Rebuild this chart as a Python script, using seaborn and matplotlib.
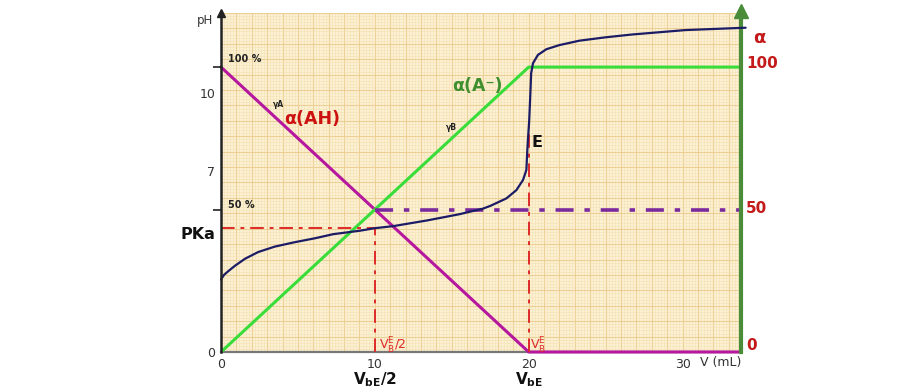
import numpy as np
import pandas as pd
import matplotlib
matplotlib.use("Agg")
import matplotlib.pyplot as plt
import seaborn as sns
from matplotlib.ticker import MultipleLocator

# titration curve: volume of base (mL) and pH
vol = [0, 0.2, 0.47, 0.91, 1.56, 2.42, 3.5, 4.8, 6.1, 7.3, 9.0, 10.0, 11.2,
       13.4, 15.5, 16.2, 17.0, 17.5, 18.55, 19.2, 19.63, 19.85, 19.9, 19.95,
       20.03, 20.1, 20.16, 20.28, 20.6, 21.15, 22.0, 23.3, 25.0, 26.75, 30.2,
       34.1]
ph = [2.8, 2.98, 3.12, 3.33, 3.6, 3.86, 4.07, 4.24, 4.39, 4.55, 4.68, 4.78,
      4.86, 5.08, 5.32, 5.42, 5.53, 5.64, 5.93, 6.25, 6.64, 7.03, 7.67, 8.19,
      8.9, 9.86, 10.76, 11.15, 11.47, 11.69, 11.85, 12.02, 12.15, 12.26, 12.43,
      12.52]

# fractions alpha (%) of AH and A- against volume
alpha_vol = [0, 20, 33.8]
alpha_ah = [100, 0, 0]
alpha_a = [0, 100, 100]

v_eq = 20        # V_bE
v_half = 10      # V_bE / 2
pka = 4.8
ph_e = 8.8
ph_100 = 11.0    # pH height where alpha = 100 %
x_max = 33.8
ph_max = 13.1

ph_ticks = [0, 7, 10]
vol_ticks = [0, 10, 20, 30]
alpha_ticks = [0, 50, 100]

curve = pd.DataFrame({"V": vol, "pH": ph})
fractions = pd.DataFrame({"V": alpha_vol, "AH": alpha_ah, "A": alpha_a})

sns.set_style("white")
plt.rcParams["font.family"] = ["DejaVu Sans"]

fig = plt.figure(figsize=(9.22, 3.91), dpi=100)
rect = [221 / 922, 39 / 391, 520 / 922, 339.3 / 391]

# graph paper background
bg = fig.add_axes(rect)
bg.set_facecolor("#fdf1d3")
bg.set_xlim(0, x_max)
bg.set_ylim(0, ph_max)
bg.xaxis.set_major_locator(MultipleLocator(1))
bg.xaxis.set_minor_locator(MultipleLocator(0.2))
bg.yaxis.set_major_locator(MultipleLocator(0.595))
bg.yaxis.set_minor_locator(MultipleLocator(0.119))
bg.grid(which="major", color="#ebcf95", lw=0.8)
bg.grid(which="minor", color="#f4e0b4", lw=0.4)
bg.tick_params(which="both", length=0, labelleft=False, labelbottom=False)
for s in ["top", "left", "right"]:
    bg.spines[s].set_visible(False)
bg.spines["bottom"].set_color("#777777")
bg.spines["bottom"].set_linewidth(1.6)
bg.set_zorder(0)

ax = fig.add_axes(rect)
ax.patch.set_visible(False)
ax.set_zorder(2)
ax2 = ax.twinx()
ax2.patch.set_visible(False)
ax2.set_zorder(1)

ax.set_xlim(0, x_max)
ax.set_ylim(0, ph_max)
ax2.set_ylim(0, ph_max / ph_100 * 100)

# fractions on the alpha scale
sns.lineplot(data=fractions, x="V", y="AH", ax=ax2, color="#b5179e", lw=2.2,
             clip_on=False)
sns.lineplot(data=fractions, x="V", y="A", ax=ax2, color="#39dd39", lw=2.2)
ax2.hlines(50, v_half, x_max, colors="#7b2a9e", lw=2.6,
           linestyles=(0, (5, 3, 1.5, 3)))

# reference lines at pKa and equivalence
red = "#dd2a2a"
ax.hlines(pka, 0, v_half, colors=red, lw=1.4, linestyles=(0, (7, 3, 2, 3)))
ax.vlines(v_half, 0, pka, colors=red, lw=1.4, linestyles=(0, (7, 3, 2, 3)))
ax.vlines(v_eq, 0, ph_e, colors=red, lw=1.4, linestyles=(0, (7, 3, 2, 3)))

# titration curve
sns.lineplot(data=curve, x="V", y="pH", ax=ax, color="#1c1c66", lw=1.6,
             clip_on=False)

# axes styling
for s in ["top", "right", "bottom"]:
    ax.spines[s].set_visible(False)
ax.spines["left"].set_color("#222222")
ax.spines["left"].set_linewidth(1.8)
for s in ["top", "left", "bottom"]:
    ax2.spines[s].set_visible(False)
ax2.spines["right"].set_color("#4a8c3a")
ax2.spines["right"].set_linewidth(3)
ax2.plot(1, 1.005, marker="^", ms=10, color="#4a8c3a", transform=ax2.transAxes,
         clip_on=False)
ax2.plot([1, 1], [1, 1.01], color="#4a8c3a", lw=3, transform=ax2.transAxes,
         clip_on=False)
ax.plot(0, 1, marker="^", ms=6, color="#222222", transform=ax.transAxes,
        clip_on=False)

ax.set_xticks(vol_ticks)
ax.set_xticklabels([str(v) for v in vol_ticks])
ax.set_yticks(ph_ticks)
ax.set_yticklabels([str(v) for v in ph_ticks])
ax.set_yticks([ph_100 / 2, ph_100], minor=True)
ax.tick_params(axis="both", which="major", length=0, labelsize=9,
               labelcolor="#333333", pad=4)
ax.tick_params(axis="y", which="minor", length=6, width=1.2, color="#222222")
ax.set_xlabel("")
ax.set_ylabel("")
ax2.set_ylabel("")

# alpha scale labels on the right (slightly raised as in the picture)
ax2.set_yticks(alpha_ticks)
ax2.tick_params(axis="y", length=0, labelright=False)
label_shift = {0: 2.4, 50: 0.3, 100: 1.4}
for a in alpha_ticks:
    ax2.text(1.01, a + label_shift[a], str(a), transform=ax2.get_yaxis_transform(),
             color="#c41a1a", fontsize=11, fontweight="bold", va="center")
ax2.text(1.023, 0.925, "α", transform=ax2.transAxes, color="#c41a1a",
         fontsize=13, fontweight="bold", va="center")

# annotations
ax.text(-0.031, 0.978, "pH", transform=ax.transAxes, fontsize=8.5,
        color="#333333", ha="center", va="center")
ax.text(32.5, -0.42, "V (mL)", fontsize=9, color="#333333", ha="center",
        va="center", clip_on=False)
ax.text(0.45, 11.3, "100 %", fontsize=7, fontweight="bold", color="#222222",
        va="center")
ax.text(0.45, 5.68, "50 %", fontsize=7, fontweight="bold", color="#222222",
        va="center")
ax.text(3.4, 9.54, "γA", fontsize=5.5, fontweight="bold", color="#222222",
        va="center")
ax.text(14.6, 8.65, "γB", fontsize=5.5, fontweight="bold", color="#222222",
        va="center")
ax.text(4.1, 9.0, "α(AH)", fontsize=12.5, fontweight="bold", color="#cc1111",
        va="center")
ax.text(15.0, 10.27, "α(A⁻)", fontsize=12.5, fontweight="bold", color="#3f8f2f",
        va="center")
ax.text(20.17, 8.08, "E", fontsize=11.5, fontweight="bold", color="#111111",
        va="center")
ax.text(-0.35, 4.52, "PKa", fontsize=11.5, fontweight="bold", color="#111111",
        ha="right", va="center")
ax.text(10.26, 0.25, r"$\mathrm{V_B^E/2}$", fontsize=9, color=red, va="center")
ax.text(20.1, 0.25, r"$\mathrm{V_B^E}$", fontsize=9, color=red, va="center")
ax.text(v_half, -1.05, r"$\mathbf{V_{bE}/2}$", fontsize=11, color="#111111",
        ha="center", va="center", clip_on=False)
ax.text(v_eq, -1.05, r"$\mathbf{V_{bE}}$", fontsize=11, color="#111111",
        ha="center", va="center", clip_on=False)

fig.savefig("out.png", dpi=100)
